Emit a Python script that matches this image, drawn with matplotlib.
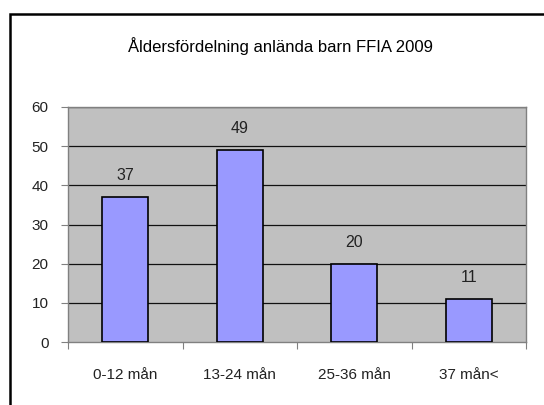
import matplotlib.pyplot as plt
import matplotlib.patches as mpatches
import numpy as np

plt.rcParams['font.family'] = ['Liberation Sans', 'DejaVu Sans']

categories = ['0-12 mån', '13-24 mån', '25-36 mån', '37 mån<']
values = [37, 49, 20, 11]
yticks = [0, 10, 20, 30, 40, 50, 60]

W, H = 544, 405
fig = plt.figure(figsize=(W / 100, H / 100), dpi=100)
fig.patch.set_facecolor('white')

# outer chart frame (cut off on right/bottom)
fig.patches.append(mpatches.Rectangle((10 / W, -0.1), 1.2, 1.1 - 14 / H,
                                      transform=fig.transFigure, fill=False,
                                      edgecolor='black', linewidth=1.8))

ax = fig.add_axes([68 / W, 1 - 342 / H, (526 - 68) / W, (342 - 107) / H])
ax.set_facecolor('#C0C0C0')

x = np.arange(len(categories))
ax.bar(x, values, width=0.4, color='#9999FF', edgecolor='black', linewidth=1.2, zorder=3)
for xi, v in zip(x, values):
    ax.annotate(str(v), (xi, v), xytext=(0, 10), textcoords='offset points',
                ha='center', va='bottom', fontsize=11.5, color='#222222')

ax.set_xlim(-0.5, len(categories) - 0.5)
ax.set_ylim(0, 60)
ax.set_yticks(yticks)
for t in yticks[1:]:
    ax.axhline(t, color='#111111', linewidth=0.9, zorder=1)

ax.set_xticks(np.arange(-0.5, len(categories), 1.0))
ax.set_xticklabels([])
ax.set_xticks(x, minor=True)
ax.set_xticklabels(categories, minor=True)
ax.tick_params(axis='x', which='minor', length=0, pad=19, labelsize=11, labelcolor='#222222')
ax.tick_params(axis='x', which='major', length=5, color='#808080', direction='out')
ax.tick_params(axis='y', length=5, color='#808080', labelsize=11, labelcolor='#222222', pad=9)

for s in ['left', 'bottom', 'right', 'top']:
    ax.spines[s].set_color('#808080')
    ax.spines[s].set_linewidth(1.0)

fig.text(281 / W, 1 - 46 / H, 'Åldersfördelning anlända barn FFIA 2009',
         ha='center', va='center', fontsize=12, color='black')

fig.savefig('out.png', dpi=100)
